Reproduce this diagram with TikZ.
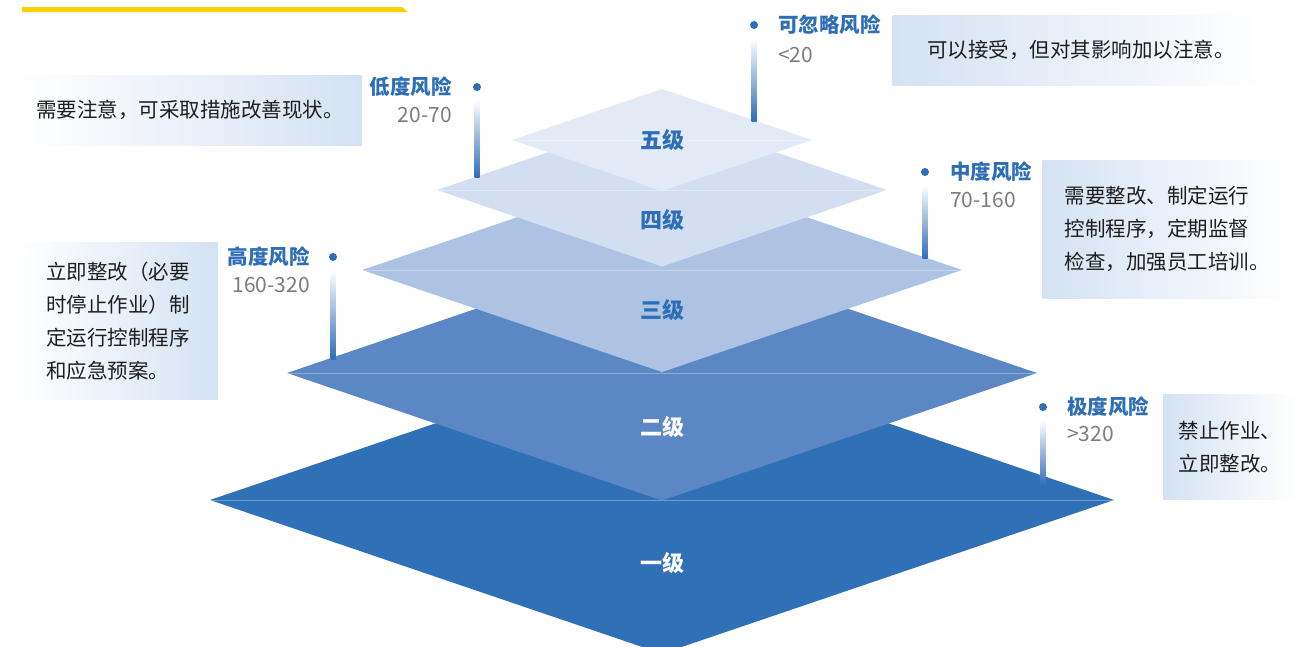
\documentclass[tikz,border=0pt]{standalone}
\usepackage{fontspec}
\setmainfont{Noto Sans CJK SC}
\usetikzlibrary{positioning}

\definecolor{lvone}{RGB}{47,112,183}
\definecolor{lvtwo}{RGB}{91,135,196}
\definecolor{lvthree}{RGB}{173,195,227}
\definecolor{lvfour}{RGB}{211,223,240}
\definecolor{lvfive}{RGB}{226,234,245}
\definecolor{riskblue}{RGB}{46,110,183}
\definecolor{notebg}{RGB}{212,226,242}
\definecolor{valgray}{RGB}{125,125,125}
\definecolor{notetext}{RGB}{30,30,30}
\definecolor{yellowbar}{RGB}{255,208,0}

\tikzset{
    lvlabel/.style={font=\fontsize{22}{26}\selectfont\bfseries},
    riskdot/.style={circle,fill=riskblue,inner sep=0pt,minimum size=8pt},
    riskbar/.style={top color=white,bottom color=riskblue,draw=none},
    risktitle/.style={text=riskblue,font=\fontsize{20.5}{24}\selectfont\bfseries,inner sep=0pt},
    riskvalue/.style={text=valgray,font=\fontsize{21}{24}\selectfont,inner sep=0pt},
    notebox/.style={draw=none,text=notetext,align=left,inner sep=0pt,
        font=\fontsize{20.5}{33}\selectfont},
    seam/.style={white,opacity=0.3,line width=1pt}
}

\begin{document}
\begin{tikzpicture}[x=1pt,y=-1pt]
    \useasboundingbox (0,0) rectangle (1294,646);
    \clip (0,0) rectangle (1294,646);
    % title underline
    \fill[yellowbar] (22,7) -- (402,7) -- (408,12) -- (22,12) -- cycle;

    % Draw the five levels, largest first
    \foreach \cy/\hw/\col in {500/452/lvone, 373/375/lvtwo, 270/300/lvthree,
                              190/225/lvfour, 140/150/lvfive}{
        \fill[\col] ({662-\hw},\cy) -- (662,{\cy-0.34*\hw})
            -- ({662+\hw},\cy) -- (662,{\cy+0.34*\hw}) -- cycle;
        \draw[seam] ({662-\hw},\cy) -- ({662+\hw},\cy);
    }
    \node[lvlabel,text=riskblue] (lab5) at (662,140) {五级};
    \node[lvlabel,text=riskblue] (lab4) at (662,220) {四级};
    \node[lvlabel,text=riskblue] (lab3) at (662,310) {三级};
    \node[lvlabel,text=white] (lab2) at (662,427) {二级};
    \node[lvlabel,text=white] (lab1) at (662,563) {一级};

    % note boxes
    \node[notebox,left color=notebg,right color=white,
        minimum width=377pt,minimum height=70pt,align=center] (note5) at (1081,50)
        {可以接受，但对其影响加以注意。};
    \node[notebox,left color=white,right color=notebg,
        minimum width=344pt,minimum height=70pt,align=center] (note4) at (190,110)
        {需要注意，可采取措施改善现状。};
    \node[notebox,left color=notebg,right color=white,
        minimum width=249pt,minimum height=138pt] (note3) at (1167,229)
        {需要整改、制定运行\\控制程序，定期监督\\检查，加强员工培训。};
    \node[notebox,left color=white,right color=notebg,
        minimum width=200pt,minimum height=157pt] (note2) at (118,321)
        {立即整改（必要\\时停止作业）制\\定运行控制程序\\和应急预案。};
    \node[notebox,left color=notebg,right color=white,
        minimum width=134pt,minimum height=105pt] (note1) at (1230,447)
        {禁止作业、\\立即整改。};

    % risk markers
    \node[riskdot] (dot5) at (754,25) {};
    \node[riskdot] (dot4) at (477,87) {};
    \node[riskdot] (dot3) at (925,172) {};
    \node[riskdot] (dot2) at (333,257) {};
    \node[riskdot] (dot1) at (1043,407) {};

    \coordinate (top5) at (754,38);   \coordinate (foot5) at (754,121);
    \coordinate (top4) at (477,100);  \coordinate (foot4) at (477,177);
    \coordinate (top3) at (925,185);  \coordinate (foot3) at (925,258);
    \coordinate (top2) at (333,270);  \coordinate (foot2) at (333,359);
    \coordinate (top1) at (1043,420); \coordinate (foot1) at (1043,486);
    \foreach \i in {1,...,5}
        \shade[riskbar] ([xshift=-2.5pt]top\i) rectangle ([xshift=2.5pt]foot\i);

    % risk names and scores
    \node[risktitle,anchor=west] (name5) at (778,25) {可忽略风险};
    \node[riskvalue,anchor=west] (val5) at (778,55) {<20};
    \node[risktitle,anchor=east] (name4) at (452,87) {低度风险};
    \node[riskvalue,anchor=east] (val4) at (452,115) {20-70};
    \node[risktitle,anchor=west] (name3) at (950,172) {中度风险};
    \node[riskvalue,anchor=west] (val3) at (950,200) {70-160};
    \node[risktitle,anchor=east] (name2) at (310,257) {高度风险};
    \node[riskvalue,anchor=east] (val2) at (310,285) {160-320};
    \node[risktitle,anchor=west] (name1) at (1067,407) {极度风险};
    \node[riskvalue,anchor=west] (val1) at (1067,434) {>320};
\end{tikzpicture}
\end{document}
